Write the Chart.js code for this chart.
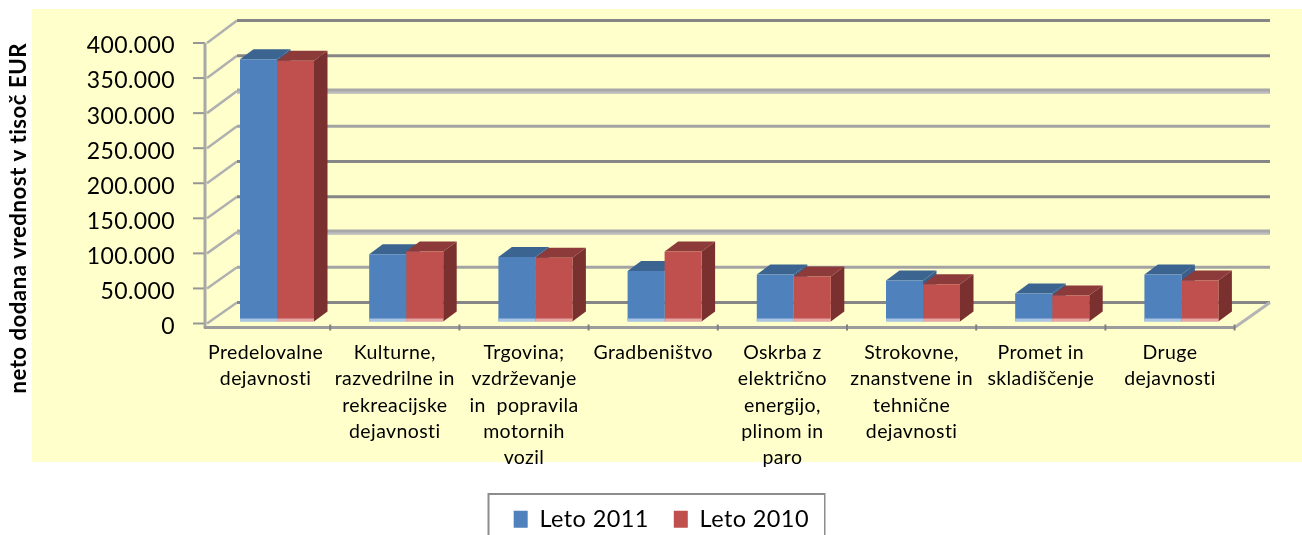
<!DOCTYPE html>
<html>
<head>
<meta charset="utf-8">
<style>html,body{margin:0;padding:0;background:#fff;overflow:hidden}canvas{display:block}</style>
<script src="https://cdn.jsdelivr.net/npm/chart.js@4"></script>
</head>
<body>
<canvas id="c" width="1302" height="535"></canvas>
<script>
const categories = [
  ["Predelovalne","dejavnosti"],
  ["Kulturne,","razvedrilne in","rekreacijske","dejavnosti"],
  ["Trgovina;","vzdrževanje","in  popravila","motornih","vozil"],
  ["Gradbeništvo"],
  ["Oskrba z","električno","energijo,","plinom in","paro"],
  ["Strokovne,","znanstvene in","tehnične","dejavnosti"],
  ["Promet in","skladiščenje"],
  ["Druge","dejavnosti"]
];
const leto2011 = [374000, 96000, 92000, 72000, 67000, 58500, 40000, 67000];
const leto2010 = [372000, 100000, 91000, 100000, 64000, 53000, 37000, 58500];
const yTickLabels = ["400.000","350.000","300.000","250.000","200.000","150.000","100.000","50.000","0"];
const yTitle = "neto dodana vrednost v tisoč EUR";

const FONT = "Lato";
const SPACING = "0.4px";
const depth = {dx: 13.5, dy: 10};
const barShift = {x: 11.4, y: -2};
const faces = [
  {top:"#3C6491", side:"#3A5F8B", foot:"#A9C3E5"},
  {top:"#8C3A3A", side:"#7B3030", foot:"#E6A5A3"}
];
const wallStyles = [
  ["#868686",3],["#868686",3],["#A8A8A8",5],["#A3A3A3",3],["#868686",3],
  ["#868686",3],["#A8A8A8",5],["#A3A3A3",3],["#868686",3]
];

function poly(ctx, pts, fill){
  ctx.beginPath();
  pts.forEach((p,i)=> i ? ctx.lineTo(p[0],p[1]) : ctx.moveTo(p[0],p[1]));
  ctx.closePath();
  ctx.fillStyle = fill;
  ctx.fill();
}
function line(ctx,x1,y1,x2,y2,color,w){
  ctx.beginPath();ctx.moveTo(x1,y1);ctx.lineTo(x2,y2);
  ctx.strokeStyle=color;ctx.lineWidth=w;ctx.stroke();
}

const scene = {
  id:"scene",
  beforeUpdate(chart){ chart.ctx.letterSpacing = SPACING; },
  afterLayout(chart){
    const l = chart.legend;
    l.left += 44; l.right += 44;
    l.top += 6; l.bottom += 6;
    chart.scales.y.getLabelItems(chart.chartArea).forEach(it=>{
      it.options.translation[1] += 3;
    });
  },
  beforeDraw(chart){
    const ctx = chart.ctx;
    ctx.letterSpacing = SPACING;
    ctx.save();
    ctx.fillStyle="#FFFFCC";
    ctx.fillRect(32,9,1270,453);
    // legend frame
    ctx.strokeStyle="#8C8C8C";ctx.lineWidth=2;
    ctx.beginPath();ctx.moveTo(488.5,536);ctx.lineTo(488.5,494);ctx.lineTo(824.5,494);ctx.lineTo(824.5,536);ctx.stroke();
    ctx.fillStyle="#fff";ctx.fillRect(490,495,334,40);

    const y = chart.scales.y, x = chart.scales.x;
    const axisX = 205, floorY = y.bottom + 4;
    const backX = axisX + 32, backEnd = 1270;
    y.ticks.forEach((t,i)=>{
      const py = y.getPixelForTick(i);
      const frac = t.value / y.max;
      const by = py - 21 - 1.5*frac;
      // side wall connector
      line(ctx,axisX+2,py,backX,by,"#B0B0B0",2.5);
      // back wall line
      const st = wallStyles[y.ticks.length-1-i];
      line(ctx,backX,by,backEnd,by,st[0],st[1]);
      if(st[1]>3){ line(ctx,backX,by+1.5,backEnd-1,by+1.5,"#BEBEBE",2); }
      // tick
      line(ctx,axisX-12,py,axisX,py,"#969696",2);
    });
    // floor edge right
    line(ctx,x.right,floorY,backEnd,y.bottom-21,"#B4B4B4",3);
    // axes
    line(ctx,axisX,y.top,axisX,floorY+1,"#A8A8A8",3);
    line(ctx,axisX-1,floorY,x.right,floorY,"#9C9C9C",3);
    for(let i=1;i<=categories.length;i++){
      const px = x.left + (x.right-x.left)*i/categories.length;
      line(ctx,px,floorY-3,px,floorY+3,"#808080",2);
    }
    ctx.restore();
  },
  beforeDatasetsDraw(chart){
    const ctx = chart.ctx;
    ctx.save();
    ctx.translate(barShift.x,barShift.y);
    [0,1].forEach(d=>{
      const meta = chart.getDatasetMeta(d), f = faces[d];
      meta.data.forEach(b=>{
        const l=b.x-b.width/2, r=b.x+b.width/2, t=b.y, g=b.base;
        poly(ctx,[[r,t],[r+depth.dx,t-depth.dy],[r+depth.dx,g-depth.dy],[r,g]],f.side);
        poly(ctx,[[l,t],[l+depth.dx,t-depth.dy],[r+depth.dx,t-depth.dy],[r,t]],f.top);
      });
    });
  },
  afterDatasetsDraw(chart){
    const ctx = chart.ctx;
    [0,1].forEach(d=>{
      const meta = chart.getDatasetMeta(d), f = faces[d];
      meta.data.forEach(b=>{
        ctx.fillStyle=f.foot;
        ctx.fillRect(b.x-b.width/2,b.base-3,b.width,3);
      });
    });
    ctx.restore();
  }
};

new Chart(document.getElementById("c"),{
  type:"bar",
  data:{
    labels:categories,
    datasets:[
      {label:"Leto 2011",data:leto2011,backgroundColor:"#4F81BD",borderWidth:0},
      {label:"Leto 2010",data:leto2010,backgroundColor:"#C0504D",borderWidth:0}
    ]
  },
  plugins:[scene],
  options:{
    responsive:false,
    animation:false,
    devicePixelRatio:1,
    layout:{padding:{top:43,right:67.4,bottom:0,left:0}},
    datasets:{bar:{categoryPercentage:0.5728,barPercentage:1}},
    plugins:{
      tooltip:{enabled:false},
      title:{display:false},
      legend:{
        position:"bottom",
        labels:{
          font:{family:FONT,size:23.5},
          color:"#000",
          boxWidth:14,boxHeight:17,
          padding:25
        }
      }
    },
    scales:{
      x:{
        afterFit(s){ s.height = 153; },
        grid:{display:false},
        border:{display:false},
        ticks:{
          autoSkip:false,maxRotation:0,minRotation:0,
          padding:8,color:"#000",
          font:{family:FONT,size:19.5,lineHeight:1.35}
        }
      },
      y:{
        min:0,max:400000,
        afterFit(s){ s.width = 201; },
        grid:{display:false},
        border:{display:false},
        title:{
          display:true,text:yTitle,align:"end",color:"#000",
          font:{family:FONT,size:22.4,weight:"bold"},
          padding:{top:5,bottom:0}
        },
        ticks:{
          stepSize:50000,padding:18,color:"#000",
          font:{family:FONT,size:23},
          callback(v,i){ return yTickLabels[yTickLabels.length-1-i]; }
        }
      }
    }
  }
});
</script>
</body>
</html>
